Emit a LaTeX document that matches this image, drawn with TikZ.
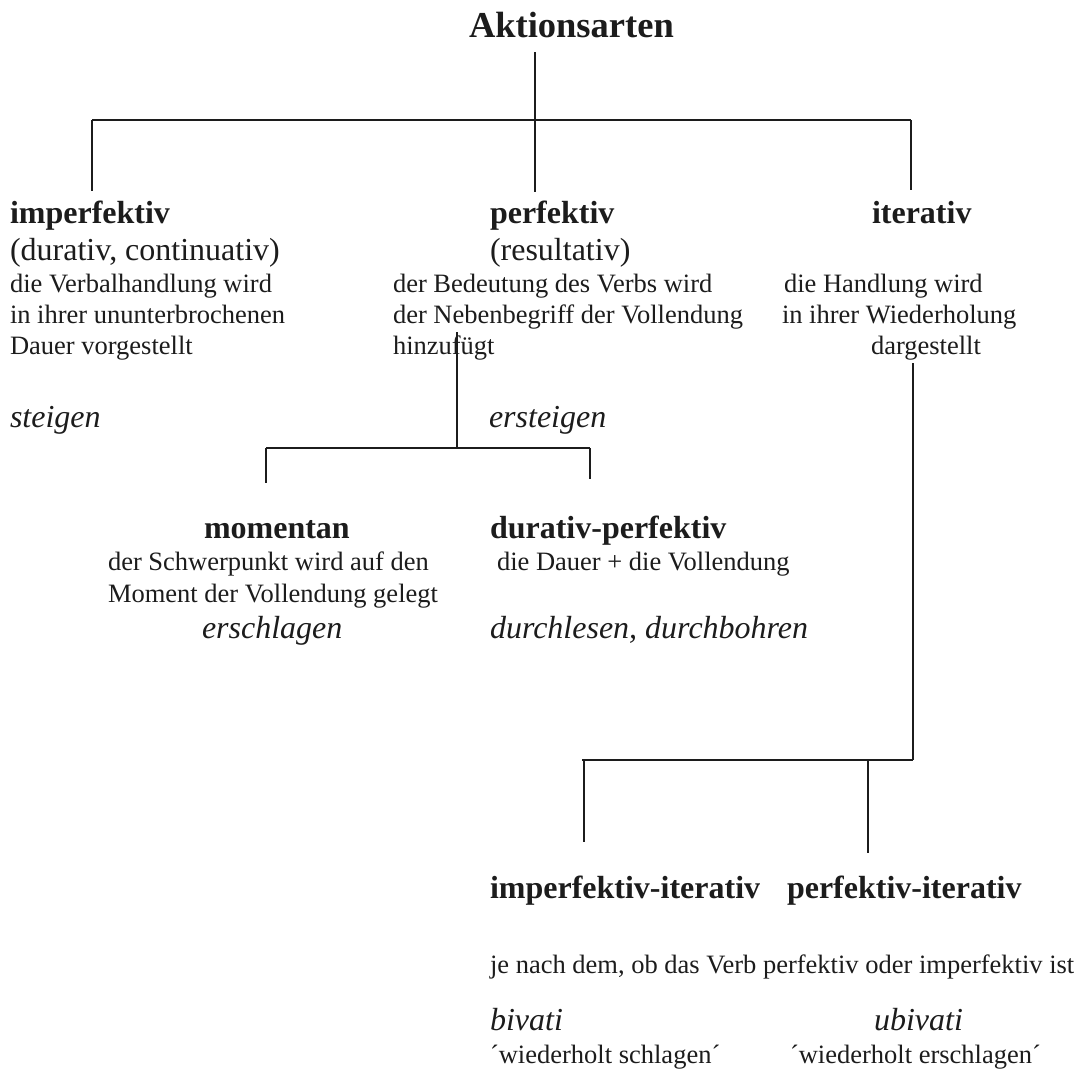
\documentclass[tikz,border=0pt]{standalone}
\usepackage{fontspec}
\setmainfont{Liberation Serif}
\definecolor{ink}{HTML}{1C1C1C}
\tikzset{
  txt/.style={anchor=base west, inner sep=0pt, outer sep=0pt, text=ink},
  titletxt/.style={txt, font=\fontsize{36.5}{40}\selectfont\bfseries},
  head/.style={txt, font=\fontsize{32}{36}\selectfont\bfseries},
  big/.style={txt, font=\fontsize{32}{36}\selectfont},
  small/.style={txt, font=\fontsize{26.5}{31}\selectfont},
  example/.style={txt, font=\fontsize{32}{36}\selectfont\itshape},
  hbar/.style={draw=ink, line width=2.2pt},
  vbar/.style={draw=ink, line width=1.6pt},
}
\begin{document}
\begin{tikzpicture}[x=1pt, y=-1pt]
\useasboundingbox (0,0) rectangle (1090,1072);

% title
\node[titletxt] (title) at (469,37) {Aktionsarten};

% first level: imperfektiv
\node[head]  (imp)   at (10,223) {imperfektiv};
\node[big]   (impa)  at (10,260) {(durativ, continuativ)};
\node[small] (impb)  at (10,292) {die Verbalhandlung wird};
\node[small] (impc)  at (10,323) {in ihrer ununterbrochenen};
\node[small] (impd)  at (10,354) {Dauer vorgestellt};
\node[example] (impx) at (10,427) {steigen};

% first level: perfektiv
\node[head]  (perf)  at (490,223) {perfektiv};
\node[big]   (perfa) at (490,260) {(resultativ)};
\node[small] (perfb) at (393,292) {der Bedeutung des Verbs wird};
\node[small] (perfc) at (393,323) {der Nebenbegriff der Vollendung};
\node[small] (perfd) at (393,354) {hinzufügt};
\node[example] (perfx) at (489,427) {ersteigen};

% first level: iterativ
\node[head]  (iter)  at (872,223) {iterativ};
\node[small] (iterb) at (784,292) {die Handlung wird};
\node[small] (iterc) at (782,323) {in ihrer Wiederholung};
\node[small] (iterd) at (871,354) {dargestellt};

% second level under perfektiv
\node[head]  (mom)   at (204,538) {momentan};
\node[small] (moma)  at (108,570) {der Schwerpunkt wird auf den};
\node[small] (momb)  at (108,602) {Moment der Vollendung gelegt};
\node[example] (momx) at (202,638) {erschlagen};

\node[head]  (dp)    at (490,538) {durativ-perfektiv};
\node[small] (dpa)   at (497,570) {die Dauer + die Vollendung};
\node[example] (dpx) at (490,638) {durchlesen, durchbohren};

% second level under iterativ
\node[head]  (ii)    at (490,898) {imperfektiv-iterativ};
\node[head]  (pi)    at (787,898) {perfektiv-iterativ};
\node[small] (note)  at (490,973) {je nach dem, ob das Verb perfektiv oder imperfektiv ist};
\node[example] (biv) at (490,1030) {bivati};
\node[example] (ubiv) at (874,1030) {ubivati};
\node[small] (bivg)  at (490,1063) {´wiederholt schlagen´};
\node[small] (ubivg) at (790,1063) {´wiederholt erschlagen´};

% tree joints
\coordinate (rootTop) at (535,52);
\coordinate (rootBot) at (535,192);
\coordinate (barL)    at (92,120);
\coordinate (barR)    at (911,120);
\coordinate (impEnd)  at (92,191);
\coordinate (iterEnd) at (911,190);

\coordinate (perfTop) at (457,332);
\coordinate (perfJ)   at (457,448);
\coordinate (barL2)   at (266,448);
\coordinate (barR2)   at (590,448);
\coordinate (momEnd)  at (266,483);
\coordinate (dpEnd)   at (590,479);

\coordinate (iterTop) at (913,363);
\coordinate (iterJ)   at (913,760);
\coordinate (barL3)   at (582,760);
\coordinate (dropL3)  at (584,760);
\coordinate (dropR3)  at (868,760);
\coordinate (iiEnd)   at (584,842);
\coordinate (piEnd)   at (868,853);

% connectors
\draw[hbar] (barL) -- (barR);
\draw[vbar] (rootTop) -- (rootBot);
\draw[vbar] (barL) -- (impEnd);
\draw[vbar] (barR) -- (iterEnd);

\draw[vbar] (perfTop) -- (perfJ);
\draw[hbar] (barL2) -- (barR2);
\draw[vbar] (barL2) -- (momEnd);
\draw[vbar] (barR2) -- (dpEnd);

\draw[vbar] (iterTop) -- (iterJ);
\draw[hbar] (barL3) -- (iterJ);
\draw[vbar] (dropL3) -- (iiEnd);
\draw[vbar] (dropR3) -- (piEnd);
\end{tikzpicture}
\end{document}
